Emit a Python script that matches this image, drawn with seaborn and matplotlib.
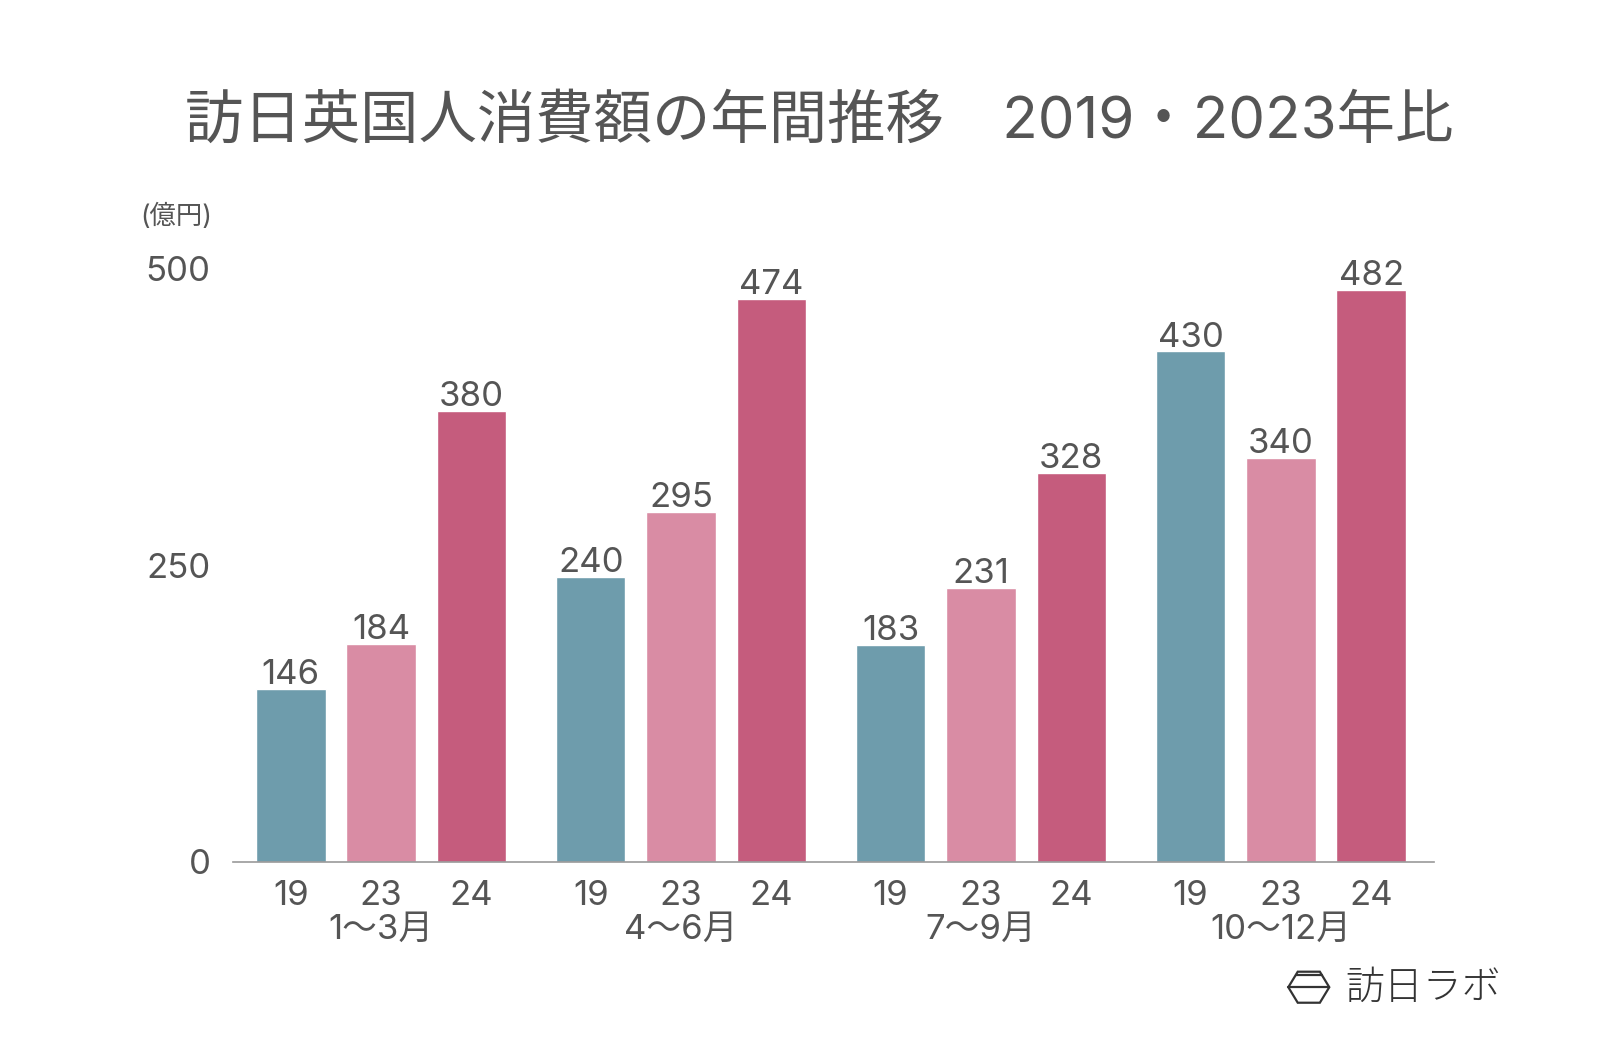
import matplotlib.pyplot as plt
import pandas as pd
import seaborn as sns
from matplotlib.patches import Polygon

quarters = ['1〜3月', '4〜6月', '7〜9月', '10〜12月']
years = ['19', '23', '24']
values_19 = [146, 240, 183, 430]
values_23 = [184, 295, 231, 340]
values_24 = [380, 474, 328, 482]
colors = {'19': '#6E9CAC', '23': '#D98CA4', '24': '#C55C7D'}

rows = []
for g, q in enumerate(quarters):
    for i, (y, vals) in enumerate(zip(years, [values_19, values_23, values_24])):
        rows.append({'pos': g * 3.32 + i, 'year': y, 'quarter': q, 'value': vals[g]})
df = pd.DataFrame(rows)

sns.set_style('white')
fam = ['Inter', 'Noto Sans CJK JP', 'DejaVu Sans']
plt.rcParams['font.family'] = fam
text_color = '#555555'
fs = 25

fig = plt.figure(figsize=(16, 10.48), dpi=100)
ax = fig.add_axes([0.1456, 0.1775, 0.896 - 0.1456, 0.744 - 0.1775])

sns.barplot(data=df, x='pos', y='value', hue='year', palette=colors,
            native_scale=True, dodge=False, width=0.77, saturation=1,
            legend=False, ax=ax)

# value labels above bars
for _, r in df.iterrows():
    ax.annotate(str(r['value']), (r['pos'], r['value']), xytext=(0, 3.5),
                textcoords='offset points', ha='center', va='baseline',
                fontsize=fs, color=text_color, annotation_clip=False)

ax.set_xlim(-0.64, 12.65)
ax.set_ylim(0, 500)
ax.set_yticks([0, 250, 500])
ax.set_yticklabels(['0', '250', '500'])
ax.set_xticks(df['pos'])
ax.set_xticklabels(df['year'])
ax.tick_params(axis='both', length=0, labelsize=fs, labelcolor=text_color)
ax.tick_params(axis='y', pad=16)
ax.tick_params(axis='x', pad=13)
ax.set_xlabel('')
ax.set_ylabel('')

for s in ['top', 'right', 'left']:
    ax.spines[s].set_visible(False)
ax.spines['bottom'].set_color('#999999')
ax.spines['bottom'].set_linewidth(1.2)

# quarter labels under middle bar of each group
for g, q in enumerate(quarters):
    ax.text(g * 3.32 + 1, -0.114, q, transform=ax.get_xaxis_transform(),
            ha='center', va='center', fontsize=fs, color=text_color)

fig.text(0.512, 0.883, '訪日英国人消費額の年間推移　2019・2023年比',
         ha='center', va='center', fontsize=42, color=text_color)
fig.text(0.110, 0.793, '(億円)', ha='center', va='center', fontsize=19,
         color=text_color)

# logo
fig.text(0.8406, 0.057, '訪日ラボ', ha='left', va='center', fontsize=28,
         color='#333333', fontweight='light', family='Noto Sans CJK JP')
cx, cy = 0.818, 0.058
w, h = 0.0128, 0.0148
lc = '#333333'
hexagon = Polygon([[cx - w * 0.54, cy + h], [cx + w * 0.54, cy + h], [cx + w, cy],
                   [cx + w * 0.54, cy - h], [cx - w * 0.54, cy - h], [cx - w, cy]],
                  closed=True, fill=False, edgecolor=lc, lw=1.6,
                  transform=fig.transFigure)
fig.patches.append(hexagon)
fig.lines.append(plt.Line2D([cx - w, cx + w], [cy, cy], color=lc, lw=1.6,
                            transform=fig.transFigure))
fig.lines.append(plt.Line2D([cx - w * 0.64, cx + w * 0.64], [cy + h * 0.76, cy + h * 0.76],
                            color=lc, lw=1.6, transform=fig.transFigure))

fig.savefig('out.png', dpi=100, facecolor='white')
